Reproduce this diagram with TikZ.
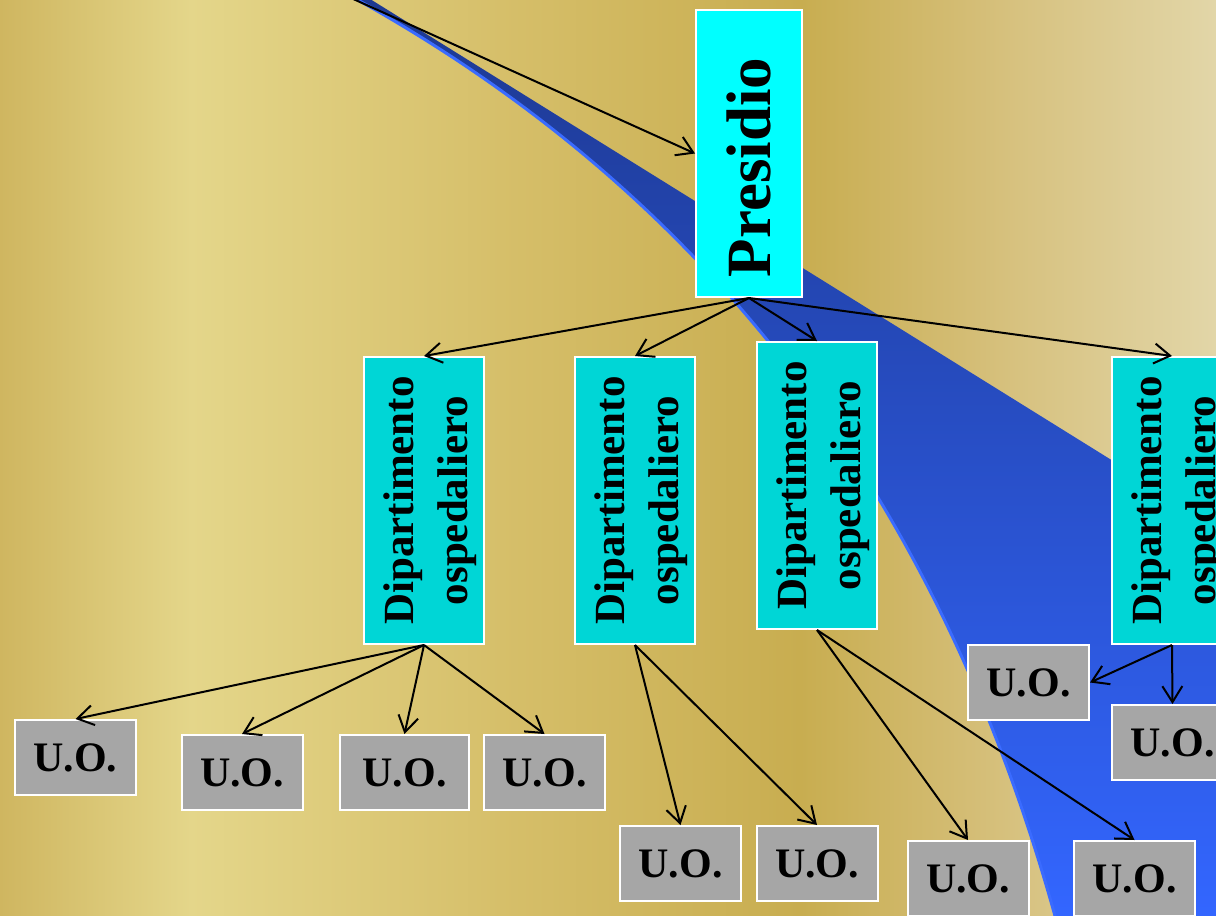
\documentclass[tikz,border=0pt]{standalone}
\usepackage{fontspec}
\setmainfont{Liberation Serif}
\usepackage{graphicx}
\usetikzlibrary{arrows.meta}
\definecolor{bgA}{HTML}{CFB660}
\definecolor{bgB}{HTML}{E4D68A}
\definecolor{bgC}{HTML}{D6BF6A}
\definecolor{bgD}{HTML}{C8AD50}
\definecolor{bgE}{HTML}{D6C07C}
\definecolor{bgF}{HTML}{E2D6A8}
\definecolor{bandTop}{HTML}{1D3890}
\definecolor{bandMid}{HTML}{3162EE}
\definecolor{bandBot}{HTML}{3366FF}
\definecolor{bandEdge}{HTML}{3A6BFF}
\definecolor{presCyan}{HTML}{00FFFF}
\definecolor{deptCyan}{HTML}{00D6D6}
\definecolor{uoGray}{HTML}{A6A6A6}
\begin{document}
\begin{tikzpicture}[x=1pt,y=-1pt,
  box/.style={draw=white, line width=2pt, inner sep=0pt, text=black},
  pres/.style={box, fill=presCyan, minimum width=106pt, minimum height=287pt,
    font=\bfseries\fontsize{63}{70}\selectfont},
  dept/.style={box, fill=deptCyan, minimum width=120pt, minimum height=287pt,
    font=\bfseries\fontsize{43}{54}\selectfont},
  uo/.style={box, fill=uoGray, minimum width=121pt, minimum height=75pt,
    font=\bfseries\fontsize{42}{48}\selectfont},
  link/.style={draw=black, line width=2pt, -{Straight Barb[length=16pt,width=20pt]}}
]
\useasboundingbox (0,0) rectangle (1216,916);
% background
\shade[left color=bgA, right color=bgB] (0,0) rectangle (191,916);
\shade[left color=bgB, right color=bgC] (190,0) rectangle (501,916);
\shade[left color=bgC, right color=bgD] (500,0) rectangle (801,916);
\shade[left color=bgD, right color=bgE] (800,0) rectangle (1001,916);
\shade[left color=bgE, right color=bgF] (1000,0) rectangle (1216,916);
% blue swoosh
\shade[top color=bandTop, middle color=bandMid, bottom color=bandBot]
  (347,-6) .. controls (705,190) and (938,495) .. (1055,916)
  -- (1216,916) -- (1216,525) -- (362,-6) -- cycle;
\draw[bandEdge, line width=3pt] (347,-6) .. controls (705,190) and (938,495) .. (1055,916);

% nodes
\node[pres] (pres) at (749,153.5) {\rotatebox{90}{Presidio\hspace{28pt}}};
\newcommand{\depttext}{\hspace*{12pt}\rotatebox{90}{\begin{tabular}{@{}c@{}}Dipartimento\\ospedaliero\end{tabular}}}
\node[dept] (d1) at (424,500.5) {\depttext};
\node[dept] (d2) at (635,500.5) {\depttext};
\node[dept] (d3) at (817,485.5) {\depttext};
\node[dept] (d4) at (1172,500.5) {\depttext};

\node[uo] (u1) at (75.5,757.5) {U.O.};
\node[uo] (u2) at (242,772.5) {U.O.};
\node[uo, minimum width=129pt] (u3) at (404.5,772.5) {U.O.};
\node[uo] (u4) at (544.5,772.5) {U.O.};
\node[uo] (u5) at (680.5,863.5) {U.O.};
\node[uo] (u6) at (817,863.5) {U.O.};
\node[uo] (u7) at (968,878.5) {U.O.};
\node[uo] (u8) at (1134.5,878.5) {U.O.};
\node[uo] (u9) at (1028.5,682.5) {U.O.};
\node[uo] (u10) at (1172.5,742.5) {U.O.};

% connectors
\coordinate (src) at (340,-7);
\draw[link] (src) -- (pres.west);
\foreach \d in {d1,d2,d3,d4} \draw[link] (pres.south) -- (\d.north);
\foreach \u in {u1,u2,u3,u4} \draw[link] (d1.south) -- (\u.north);
\foreach \u in {u5,u6} \draw[link] (d2.south) -- (\u.north);
\foreach \u in {u7,u8} \draw[link] (d3.south) -- (\u.north);
\draw[link] (d4.south) -- (u9.east);
\draw[link] (d4.south) -- (u10.north);
\end{tikzpicture}
\end{document}
